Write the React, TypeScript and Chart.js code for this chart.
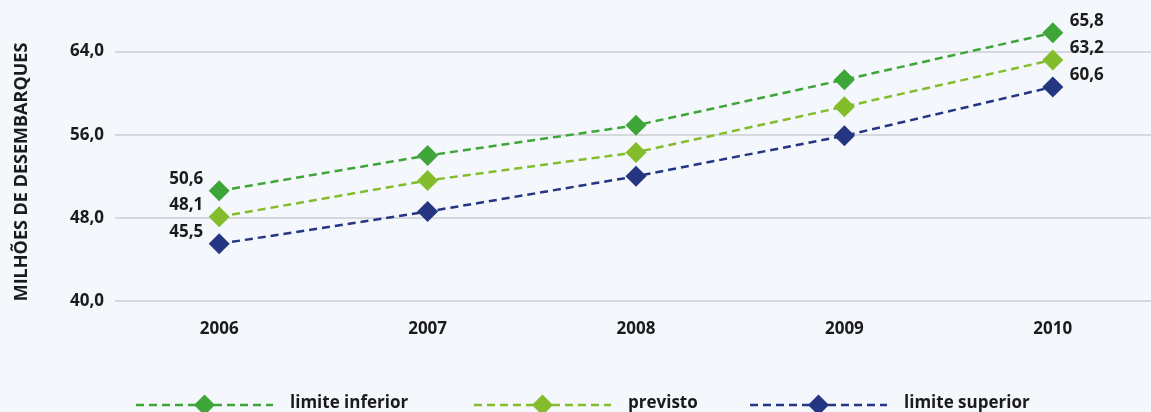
import React, { useEffect, useRef } from "react";
import { Chart, registerables } from "chart.js";

Chart.register(...registerables);

const years = ["2006", "2007", "2008", "2009", "2010"];
const limiteInferior = [50.6, 54.0, 56.9, 61.3, 65.8];
const previsto = [48.1, 51.6, 54.3, 58.7, 63.2];
const limiteSuperior = [45.5, 48.6, 52.0, 55.9, 60.6];
const yTicks = [40, 48, 56, 64];
const seriesNames = ["limite inferior", "previsto", "limite superior"];
const seriesColors = ["#3ea638", "#84bd2c", "#243682"];
const yTitle = "MILHÕES DE DESEMBARQUES";

const FONT = "'Open Sans', 'Noto Sans', sans-serif";
const TEXT = "#1b1b1b";
const fmt = (v: number) => v.toFixed(1).replace(".", ",");

const bgPlugin = {
  id: "bg",
  beforeDraw(chart: any) {
    const { ctx, width, height } = chart;
    ctx.save();
    ctx.fillStyle = "#f4f7fb";
    ctx.fillRect(0, 0, width, height);
    ctx.restore();
  },
};

const titlePlugin = {
  id: "yTitle",
  afterDraw(chart: any) {
    const { ctx } = chart;
    ctx.save();
    ctx.translate(22, 172);
    ctx.rotate(-Math.PI / 2);
    ctx.font = `bold 18px ${FONT}`;
    ctx.fillStyle = TEXT;
    ctx.textAlign = "center";
    ctx.textBaseline = "middle";
    ctx.fillText(yTitle, 0, 0);
    ctx.restore();
  },
};

const labelPlugin = {
  id: "endLabels",
  afterDatasetsDraw(chart: any) {
    const { ctx } = chart;
    ctx.save();
    ctx.font = `bold 17px ${FONT}`;
    ctx.fillStyle = TEXT;
    ctx.textBaseline = "middle";
    chart.data.datasets.forEach((ds: any, i: number) => {
      const meta = chart.getDatasetMeta(i);
      const first = meta.data[0];
      const last = meta.data[meta.data.length - 1];
      ctx.textAlign = "right";
      ctx.fillText(fmt(ds.data[0]), first.x - 16, first.y - 12);
      ctx.textAlign = "left";
      ctx.fillText(fmt(ds.data[ds.data.length - 1]), last.x + 17, last.y - 12);
    });
    ctx.restore();
  },
};

const legendPlugin = {
  id: "customLegend",
  afterDraw(chart: any) {
    const { ctx } = chart;
    const starts = [136, 474, 750];
    const lineLen = 137;
    const y = 405;
    ctx.save();
    chart.data.datasets.forEach((ds: any, i: number) => {
      const x0 = starts[i];
      ctx.strokeStyle = ds.borderColor;
      ctx.lineWidth = 2.5;
      ctx.setLineDash([8, 5]);
      ctx.beginPath();
      ctx.moveTo(x0, y);
      ctx.lineTo(x0 + lineLen, y);
      ctx.stroke();
      ctx.setLineDash([]);
      const cx = x0 + lineLen / 2;
      const r = 10.5;
      ctx.fillStyle = ds.borderColor;
      ctx.beginPath();
      ctx.moveTo(cx, y - r);
      ctx.lineTo(cx + r, y);
      ctx.lineTo(cx, y + r);
      ctx.lineTo(cx - r, y);
      ctx.closePath();
      ctx.fill();
      ctx.font = `bold 17px ${FONT}`;
      ctx.fillStyle = TEXT;
      ctx.textAlign = "left";
      ctx.textBaseline = "alphabetic";
      ctx.fillText(ds.label, x0 + lineLen + 17, 408);
    });
    ctx.restore();
  },
};

export default function App() {
  const ref = useRef<HTMLCanvasElement | null>(null);
  useEffect(() => {
    if (!ref.current) return;
    const series = [limiteInferior, previsto, limiteSuperior];
    const chart = new Chart(ref.current, {
      type: "line",
      data: {
        labels: years,
        datasets: series.map((d, i) => ({
          label: seriesNames[i],
          data: d,
          borderColor: seriesColors[i],
          backgroundColor: seriesColors[i],
          borderWidth: 2.5,
          borderDash: [8, 5],
          pointStyle: "rectRot",
          pointRadius: 10.5,
          pointBorderWidth: 0,
          pointBackgroundColor: seriesColors[i],
          tension: 0,
          clip: false as any,
          fill: false,
        })),
      },
      options: {
        responsive: false,
        animation: false,
        layout: { autoPadding: false, padding: { top: 10, right: 0, bottom: 0, left: 0 } },
        plugins: {
          legend: { display: false },
          tooltip: { enabled: false },
        },
        scales: {
          x: {
            offset: true,
            grid: { display: false, drawTicks: false },
            border: { display: false },
            ticks: {
              padding: 18,
              color: TEXT,
              font: { family: FONT, size: 17, weight: "bold" },
            },
            afterFit(scale: any) {
              scale.height = 111;
              scale.paddingLeft = 0;
              scale.paddingRight = 0;
            },
          },
          y: {
            min: 40,
            max: 68,
            afterBuildTicks(axis: any) {
              axis.ticks = yTicks.map((v) => ({ value: v }));
            },
            grid: { color: "#d5d8dd", lineWidth: 2, drawTicks: false },
            border: { display: false },
            ticks: {
              padding: 11,
              color: TEXT,
              font: { family: FONT, size: 17, weight: "bold" },
              callback: (v: any) => fmt(Number(v)),
            },
            title: { display: false },
            afterFit(scale: any) {
              scale.width = 115;
              scale.paddingTop = 0;
              scale.paddingBottom = 0;
            },
          },
        },
      },
      plugins: [bgPlugin, labelPlugin, legendPlugin, titlePlugin],
    });
    return () => chart.destroy();
  }, []);
  return (
    <div
      style={{
        position: "fixed",
        left: 0,
        top: 0,
        width: 1151,
        height: 412,
        overflow: "hidden",
        background: "#f4f7fb",
      }}
    >
      <canvas ref={ref} width={1157} height={412} style={{ display: "block" }} />
    </div>
  );
}
